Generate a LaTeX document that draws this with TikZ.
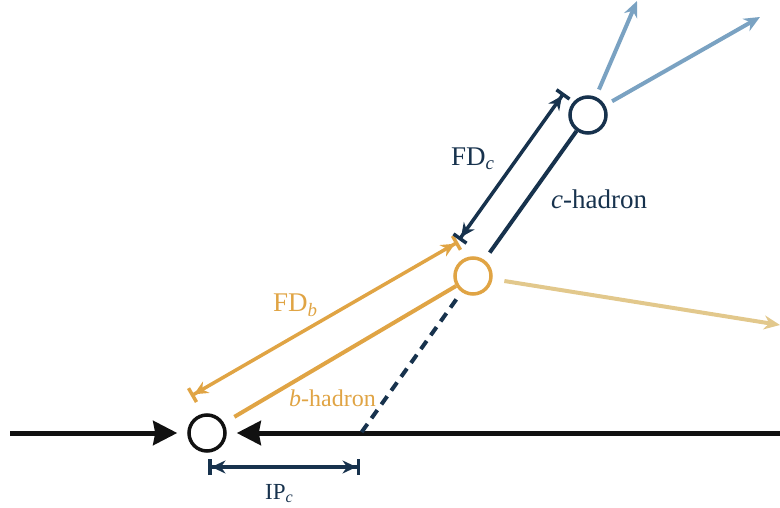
\documentclass[tikz,border=0pt]{standalone}
\usepackage{fontspec}
\setmainfont{Liberation Serif}
\usetikzlibrary{arrows.meta, positioning, calc}
\definecolor{InkBlack} {HTML}{111111}
\definecolor{NavyC}    {HTML}{17324D}
\definecolor{GoldB}    {HTML}{E0A444}
\definecolor{SkyDecay} {HTML}{7AA2C2}
\definecolor{SandDecay}{HTML}{E2C88C}

\tikzset{
  vertex/.style={circle, draw, minimum size=36pt, inner sep=0pt, line width=3.5pt},
  track/.style={line width=4pt},
  beam/.style={line width=5pt, draw=InkBlack,
    -{Stealth[length=24pt, width=24pt, inset=2pt]}},
  gauge/.style={line width=3.5pt,
    {Bar[width=16pt] Stealth[length=14pt, width=13pt]}-{Stealth[length=14pt, width=13pt] Bar[width=16pt]}},
  decay/.style={line width=4pt, -{Stealth[length=16pt, width=14pt]}},
  lbl/.style={anchor=base west, inner sep=0pt, font=\fontsize{27}{32}\selectfont}
}

\begin{document}
\begin{tikzpicture}[x=1pt, y=-1pt]
  \useasboundingbox (0,0) rectangle (780,508);

  % vertices
  \node[vertex, draw=InkBlack] (pv) at (207,433) {};
  \node[vertex, draw=GoldB]    (bv) at (473,276) {};
  \node[vertex, draw=NavyC]    (cv) at (588,115) {};

  % beam and helper points
  \coordinate (beamL) at (10,433);
  \coordinate (beamR) at (780,433);
  \coordinate (cx)    at (361,433);
  \draw[beam, shorten >=10pt] (beamL) -- (pv);
  \draw[beam, shorten >=10pt] (beamR) -- (pv);

  % flight lines
  \draw[track, GoldB, shorten <=12pt] (pv) -- (bv);
  \draw[track, NavyC, shorten <=9pt] (bv) -- (cv);
  \draw[track, NavyC, dash pattern=on 10pt off 7pt, shorten <=9pt] (bv) -- (cx);

  % decay products
  \coordinate (cOut1) at (637,1);
  \coordinate (cOut2) at (760,17);
  \coordinate (bOut)  at (780,325);
  \draw[decay, SkyDecay, shorten <=8pt] (cv) -- (cOut1);
  \draw[decay, SkyDecay, shorten <=8pt] (cv) -- (cOut2);
  \draw[decay, SandDecay, shorten <=12pt] (bv) -- (bOut);

  % flight distances
  \coordinate (fdbA) at (191,396);
  \coordinate (fdbB) at (458,242);
  \coordinate (fdcA) at (459,240);
  \coordinate (fdcB) at (564,93);
  \draw[gauge, GoldB] (fdbA) -- (fdbB);
  \draw[gauge, NavyC] (fdcA) -- (fdcB);

  % impact parameter
  \coordinate (ipA) at (208,467);
  \coordinate (ipB) at (360,467);
  \draw[gauge, NavyC] (ipA) -- (ipB);

  % labels
  \node[lbl, NavyC] (fdcLbl) at (451,166) {FD\textsubscript{\textit{c}}};
  \node[lbl, NavyC] (chLbl)  at (551,208) {\textit{c}-hadron};
  \node[lbl, GoldB] (fdbLbl) at (273,312) {FD\textsubscript{\textit{b}}};
  \node[lbl, GoldB, font=\fontsize{24}{28}\selectfont] (bhLbl) at (289,406) {\textit{b}-hadron};
  \node[lbl, NavyC, font=\fontsize{23}{27}\selectfont] (ipLbl) at (265,499) {IP\textsubscript{\textit{c}}};
\end{tikzpicture}
\end{document}
